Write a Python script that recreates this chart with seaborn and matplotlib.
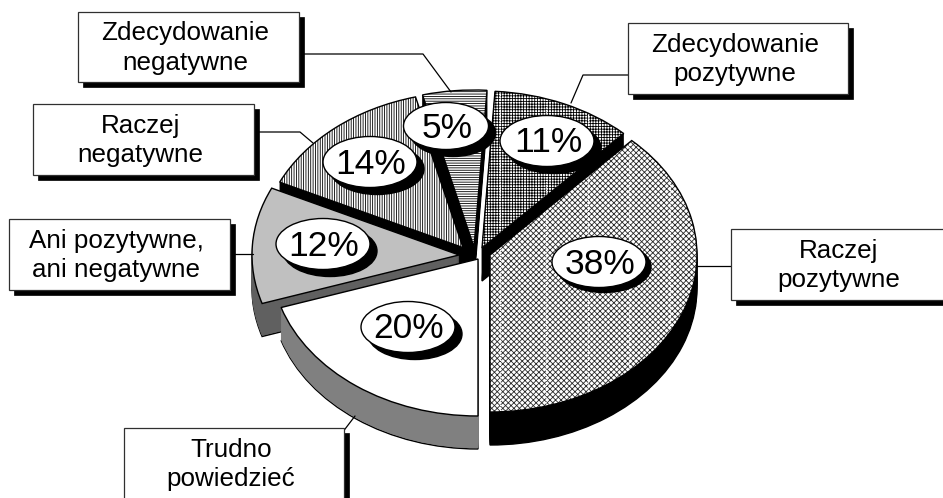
import matplotlib
matplotlib.use('Agg')
import matplotlib.pyplot as plt
from matplotlib.patches import Ellipse, Rectangle
import seaborn as sns

sns.set_theme(style='white')
plt.rcParams['font.family'] = ['Liberation Sans', 'DejaVu Sans']
plt.rcParams['hatch.linewidth'] = 0.6

# data
categories = ['Zdecydowanie\npozytywne', 'Raczej\npozytywne', 'Trudno\npowiedzieć',
              'Ani pozytywne,\nani negatywne', 'Raczej\nnegatywne', 'Zdecydowanie\nnegatywne']
values = [11, 38, 20, 12, 14, 5]

# layout, in pixels of the picture
W, H = 943, 498
SQUASH = 157 / 207
RX = 207
DEPTH = 33
slice_centers = [(482, 248), (490, 255), (478, 259), (459, 255), (467, 249), (474, 247)]
top_colors = ['white', 'white', 'white', '#c0c0c0', 'white', 'white']
hatches = ['+' * 6, 'x' * 6, None, None, '|' * 7, '-' * 7]
hatch_colors = ['black', '#2a2a2a', 'black', 'black', 'black', 'black']
side_colors = ['black', 'black', '#808080', '#606060', 'black', 'black']
draw_order = [4, 5, 0, 3, 2, 1]
white_lines = {0: [500, 546, 588], 1: [500, 546, 588, 629, 670]}
ellipses = [(547, 141), (599, 262), (408, 327), (323, 244), (370, 162), (446, 126)]
boxes = [(628, 23, 220, 71), (731, 229, 221, 71), (124, 428, 220, 71),
         (9, 219, 221, 71), (33, 104, 221, 71), (78, 12, 221, 70)]
leaders = [[(628, 75), (583, 75), (571, 103)],
           [(697, 266), (731, 266)],
           [(342, 433), (355, 416)],
           [(230, 254), (253, 254)],
           [(254, 132), (300, 132), (313, 143)],
           [(299, 54), (423, 54), (451, 92)]]


def px(x, y):
    return x, (H - y) / SQUASH


def one_wedge(i):
    # the whole pie goes through ax.pie, only slice i is kept
    wedges, _ = ax.pie(values, radius=RX, startangle=86.4, counterclock=False,
                       frame=True, normalize=True)
    for j, w in enumerate(wedges):
        if j != i:
            w.remove()
    return wedges[i]


fig = plt.figure(figsize=(W / 100, H / 100), dpi=100)
ax = fig.add_axes([0, 0, 1, 1])

for i in draw_order:
    cx, cy = slice_centers[i]
    # side of the slice, one layer per pixel of depth
    for d in range(DEPTH, 0, -1):
        wedge = one_wedge(i)
        wedge.set_center(px(cx, cy + d))
        wedge.set_facecolor(side_colors[i])
        wedge.set_edgecolor('black' if d == DEPTH else side_colors[i])
        wedge.set_linewidth(1.0 if d == DEPTH else 0.4)
    # top of the slice: fill with hatch first, black outline drawn over it
    wedge = one_wedge(i)
    wedge.set_center(px(cx, cy))
    wedge.set_facecolor(top_colors[i])
    wedge.set_edgecolor(hatch_colors[i])
    wedge.set_linewidth(0)
    if hatches[i]:
        wedge.set_hatch(hatches[i])
    # dotted seams of the old pattern fill
    for x in white_lines.get(i, []):
        line, = ax.plot([x, x], [0, H / SQUASH], color='white', lw=0.9,
                        ls=(0, (1, 1)), zorder=1)
        line.set_clip_path(wedge)
    outline = one_wedge(i)
    outline.set_center(px(cx, cy))
    outline.set_facecolor('none')
    outline.set_edgecolor('black')
    outline.set_linewidth(1.0)

ax.set_aspect('auto')
ax.set_xlim(0, W)
ax.set_ylim(0, H / SQUASH)
ax.axis('off')

for pts in leaders:
    ax.plot(*zip(*[px(x, y) for x, y in pts]), color='black', lw=0.9, zorder=3)

# labels with the percentages
for (ex, ey), v in zip(ellipses, values):
    w, h = (85, 47) if v == 5 else (94, 51)
    off = 5 if v == 38 else 7
    ax.add_patch(Ellipse(px(ex + off, ey + off), w, h / SQUASH, fc='black', ec='black', zorder=4))
    ax.add_patch(Ellipse(px(ex, ey), w, h / SQUASH, fc='white', ec='black', lw=1.0, zorder=5))
    ax.text(*px(ex + 1, ey + 2), f'{v}%', ha='center', va='center', fontsize=25.5,
            color='black', zorder=6)

# label boxes with a drop shadow
for (bx, by, bw, bh), label in zip(boxes, categories):
    ax.add_patch(Rectangle(px(bx + 5, by + bh + 5), bw, bh / SQUASH, fc='black', ec='black',
                           lw=0.5, zorder=7))
    ax.add_patch(Rectangle(px(bx, by + bh), bw, bh / SQUASH, fc='white', ec='#303030',
                           lw=0.9, zorder=8))
    ax.text(*px(bx + bw / 2 - 3, by + bh / 2 + 1), label, ha='center', va='center',
            fontsize=18.7, linespacing=1.28, color='black', zorder=9)

fig.savefig('out.png', dpi=100, facecolor='white')
plt.close(fig)
